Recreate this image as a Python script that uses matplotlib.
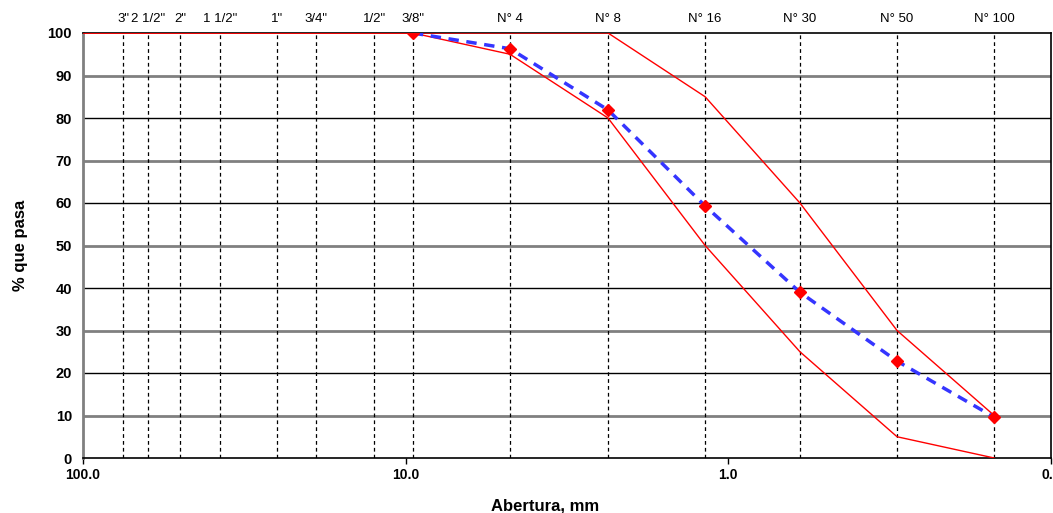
import numpy as np
import matplotlib
matplotlib.use('Agg')
from matplotlib import pyplot as plt

plt.rcParams['font.family'] = ['Liberation Sans', 'DejaVu Sans']

# sieve names and openings (mm)
sieve_names = ['3"', '2 1/2"', '2"', '1 1/2"', '1"', '3/4"', '1/2"', '3/8"',
               'N° 4', 'N° 8', 'N° 16', 'N° 30', 'N° 50', 'N° 100']
sieve_mm = [75, 63, 50, 37.5, 25, 19, 12.5, 9.5, 4.75, 2.36, 1.18, 0.6, 0.3, 0.15]

# specification limits (start at the 100 mm edge)
lim_mm = [100, 75, 63, 50, 37.5, 25, 19, 12.5, 9.5, 4.75, 2.36, 1.18, 0.6, 0.3, 0.15]
upper = [100, 100, 100, 100, 100, 100, 100, 100, 100, 100, 100, 85, 60, 30, 10]
lower = [100, 100, 100, 100, 100, 100, 100, 100, 100, 95, 80, 50, 25, 5, 0]

# sample gradation
grad_mm = [9.5, 4.75, 2.36, 1.18, 0.6, 0.3, 0.15]
grad_pass = [100, 96.3, 81.9, 59.3, 39.0, 22.8, 9.6]

fig = plt.figure(figsize=(10.53, 5.13), dpi=100)
ax = fig.add_axes([83 / 1053, 1 - 458 / 513, 968 / 1053, 425 / 513])

# horizontal grid: gray/black alternating
for y in range(10, 100, 10):
    if (y // 10) % 2 == 1:
        ax.axhline(y, color='#808080', lw=2.0, zorder=1)
    else:
        ax.axhline(y, color='black', lw=1.0, zorder=1)

for s in sieve_mm:
    ax.axvline(s, color='black', lw=0.9, ls=(0, (3, 2.5)), zorder=1)

ax.plot(lim_mm, upper, color='red', lw=1.0, zorder=3)
ax.plot(lim_mm, lower, color='red', lw=1.0, zorder=3)
ax.plot(grad_mm, grad_pass, color='#3535ff', lw=2.5, ls=(0, (3, 2.2)), zorder=4)
ax.plot(grad_mm, grad_pass, ls='none', marker='D', ms=6.5, color='red', zorder=5)

ax.set_xscale('log')
ax.set_xlim(100, 0.1)
ax.set_ylim(0, 100)

ax.set_xticks([100, 10, 1, 0.1])
ax.set_xticklabels(['100.0', '10.0', '1.0', '0.1'], fontweight='bold', fontsize=10)
ax.xaxis.set_minor_locator(matplotlib.ticker.NullLocator())
ax.tick_params(axis='x', length=4, width=1, pad=3)
ax.set_yticks(range(0, 101, 10))
ax.set_yticklabels([str(v) for v in range(0, 101, 10)], fontweight='bold', fontsize=10.5)
ax.tick_params(axis='y', length=0, pad=8)

ax.spines['left'].set_color('#808080')
ax.spines['left'].set_linewidth(2)
for sp in ['bottom', 'top', 'right']:
    ax.spines[sp].set_color('black')
    ax.spines[sp].set_linewidth(1.2)

top = ax.secondary_xaxis('top')
top.set_xticks(sieve_mm)
top.set_xticklabels(sieve_names, fontsize=9.5)
top.xaxis.set_minor_locator(matplotlib.ticker.NullLocator())
top.tick_params(axis='x', length=0, pad=6)
top.spines['top'].set_visible(False)

ax.set_xlabel('Abertura, mm', fontweight='bold', fontsize=12, labelpad=12)
ax.xaxis.set_label_coords(0.477, -0.095)
ax.set_ylabel('% que pasa', fontweight='bold', fontsize=12, labelpad=14)

fig.savefig('out.png', dpi=100)
